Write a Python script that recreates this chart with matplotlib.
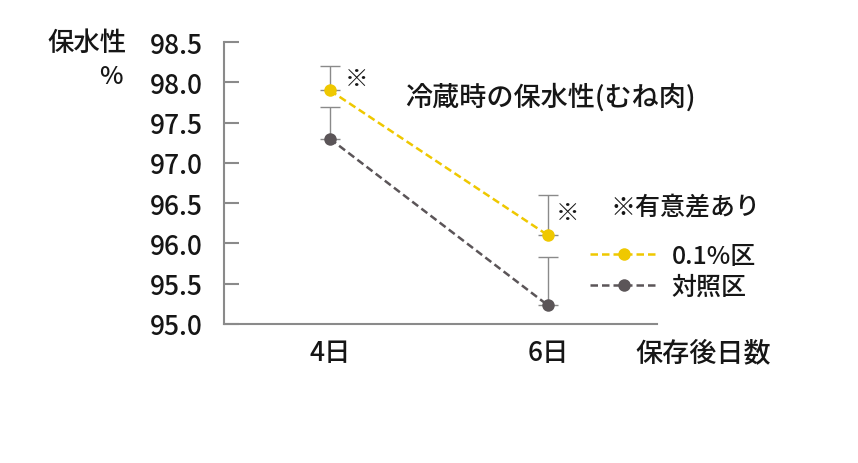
import numpy as np
import matplotlib
matplotlib.use('Agg')
import matplotlib.pyplot as plt

plt.rcParams['font.family'] = ['Noto Sans CJK JP', 'DejaVu Sans']
plt.rcParams['font.weight'] = 'medium'

# data
days = ['4日', '6日']
treated = [97.9, 96.1]        # 0.1%区
control = [97.3, 95.23]       # 対照区
treated_err = [0.3, 0.5]      # upper error only
control_err = [0.4, 0.6]
yticks = [95.0, 95.5, 96.0, 96.5, 97.0, 97.5, 98.0, 98.5]

yellow = '#EFC800'
grey = '#5B5558'
axis_grey = '#8A8A8A'
txt = '#161616'

fig = plt.figure(figsize=(8.58, 4.64), dpi=100)
ax = fig.add_axes([0.261, 0.2996, 0.505, 0.6074])

x = np.arange(len(days))

# error bars first (upper side only)
ax.errorbar(x, treated, yerr=[np.zeros(2), treated_err], fmt='none',
            ecolor=axis_grey, elinewidth=1, capsize=7, capthick=1, zorder=1)
ax.errorbar(x, control, yerr=[np.zeros(2), control_err], fmt='none',
            ecolor=axis_grey, elinewidth=1, capsize=7, capthick=1, zorder=1)

l1, = ax.plot(x, treated, color=yellow, ls=(0, (3, 1.6)), lw=1.8,
              marker='o', ms=9, markeredgewidth=0, label='0.1%区', zorder=3)
l2, = ax.plot(x, control, color=grey, ls=(0, (3, 1.6)), lw=1.8,
              marker='o', ms=9, markeredgewidth=0, label='対照区', zorder=3)

ax.set_ylim(95.0, 98.5)
ax.set_xlim(-0.486, 1.5)
ax.set_yticks(yticks)
ax.set_yticklabels(['%.1f' % v for v in yticks], fontsize=19)
ax.set_xticks(x)
ax.set_xticklabels(days, fontsize=19)

for s in ['top', 'right']:
    ax.spines[s].set_visible(False)
for s in ['left', 'bottom']:
    ax.spines[s].set_color(axis_grey)
    ax.spines[s].set_linewidth(1.5)
ax.tick_params(axis='y', direction='in', length=11, width=1.5, color=axis_grey,
               pad=15, labelcolor=txt)
ax.tick_params(axis='x', length=0, pad=11, labelcolor=txt)

# labels and notes
fig.text(0.101, 0.907, '保水性', fontsize=19, ha='center', va='center', color=txt)
fig.text(0.129, 0.834, '%', fontsize=18, ha='center', va='center', color=txt)
fig.text(0.820, 0.238, '保存後日数', fontsize=19.5, ha='center', va='center', color=txt)
fig.text(0.472, 0.789, '冷蔵時の保水性(むね肉)', fontsize=19.5, ha='left', va='center',
         color=txt)
fig.text(0.416, 0.828, '※', fontsize=17, ha='center', va='center', color=txt)
fig.text(0.662, 0.541, '※', fontsize=17, ha='center', va='center', color=txt)
fig.text(0.711, 0.554, '※有意差あり', fontsize=18, ha='left', va='center', color=txt)

leg = ax.legend(handles=[l1, l2], loc='upper left', bbox_to_anchor=(0.688, 0.475),
                bbox_transform=fig.transFigure, frameon=False, fontsize=18,
                handlelength=2.7, handletextpad=0.55, labelspacing=0.2,
                borderpad=0, borderaxespad=0)
for t in leg.get_texts():
    t.set_color(txt)

fig.savefig('out.png', dpi=100)
